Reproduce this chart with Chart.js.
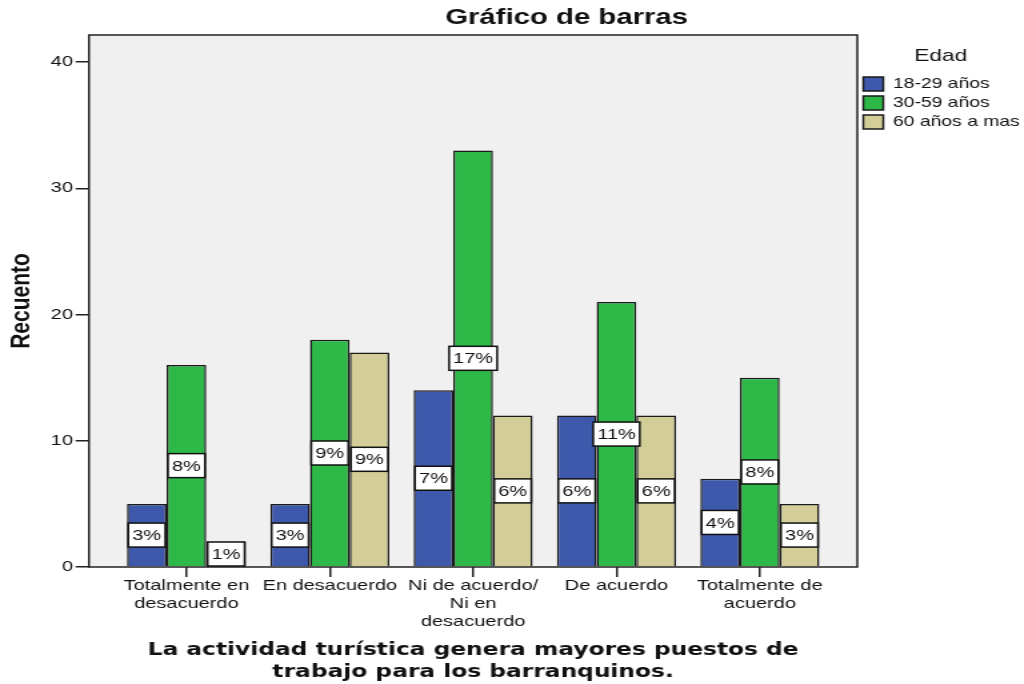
<!DOCTYPE html>
<html><head><meta charset="utf-8">
<script src="https://cdn.jsdelivr.net/npm/chart.js@4"></script>
<style>html,body{margin:0;padding:0;background:#fff;} canvas{display:block;}</style>
</head><body>
<canvas id="c" width="768" height="684" style="width:1024px;height:684px"></canvas>
<script>
const categories = [["Totalmente en","desacuerdo"],"En desacuerdo",["Ni de acuerdo/","Ni en","desacuerdo"],"De acuerdo",["Totalmente de","acuerdo"]];
const seriesNames = ["18-29 años","30-59 años","60 años a mas"];
const edad18_29 = [5,5,14,12,7];
const edad30_59 = [16,18,33,21,15];
const edad60 = [2,17,12,12,5];
const pct18_29 = ["3%","3%","7%","6%","4%"];
const pct30_59 = ["8%","9%","17%","11%","8%"];
const pct60 = ["1%","9%","6%","6%","3%"];
const yTicks = [0,10,20,30,40];
const chartTitle = "Gráfico de barras";
const xTitle = ["La actividad turística genera mayores puestos de","trabajo para los barranquinos."];
const yTitle = "Recuento";
const legendTitle = "Edad";

const SANS = '"Liberation Sans", Arial, sans-serif';
const pctLabels = [pct18_29, pct30_59, pct60];
const seriesValues = [edad18_29, edad30_59, edad60];
const colors = ["#3e58ac", "#2eb848", "#d3ce97"];

const framePlugin = {
  id: 'frame',
  beforeDraw(chart) {
    const {ctx, chartArea: a} = chart;
    ctx.save();
    ctx.fillStyle = '#f0f0f0';
    ctx.fillRect(a.left, a.top, a.right - a.left, a.bottom - a.top);
    ctx.restore();
  },
  afterDatasetsDraw(chart) {
    const {ctx, chartArea: a} = chart;
    ctx.save();
    ctx.strokeStyle = '#222';
    ctx.lineWidth = 1.5;
    ctx.strokeRect(a.left, a.top, a.right - a.left, a.bottom - a.top);
    ctx.font = '15px ' + SANS;
    ctx.textAlign = 'center';
    ctx.textBaseline = 'middle';
    chart.data.datasets.forEach((ds, i) => {
      const meta = chart.getDatasetMeta(i);
      meta.data.forEach((bar, j) => {
        const t = pctLabels[i][j];
        const cy = (bar.y + bar.base) / 2;
        const tw = ctx.measureText(t).width;
        const w = Math.max(tw + 6, bar.width - 2);
        const h = 24;
        ctx.fillStyle = '#fff';
        ctx.fillRect(bar.x - w / 2, cy - h / 2, w, h);
        ctx.lineWidth = 1.5;
        ctx.strokeStyle = '#111';
        ctx.strokeRect(bar.x - w / 2, cy - h / 2, w, h);
        ctx.fillStyle = '#111';
        ctx.fillText(t, bar.x, cy + 1);
      });
    });
    ctx.restore();
  },
  afterDraw(chart) {
    const {ctx} = chart;
    ctx.save();
    ctx.font = 'bold 22px ' + SANS;
    ctx.fillStyle = '#111';
    ctx.textAlign = 'center';
    ctx.textBaseline = 'middle';
    ctx.fillText(chartTitle, 425, 18);
    ctx.restore();
  }
};

new Chart(document.getElementById('c'), {
  type: 'bar',
  data: {
    datasets: seriesNames.map((name, i) => ({
      label: name,
      data: seriesValues[i].map((v, k) => ({x: k, y: v})),
      backgroundColor: colors[i],
      borderColor: '#1a1a1a',
      borderWidth: 1.5,
      borderSkipped: 'start',
      categoryPercentage: 0.83,
      barPercentage: 1.0
    }))
  },
  options: {
    responsive: false,
    animation: false,
    devicePixelRatio: 1,
    layout: {padding: {top: 35, left: 0, right: 0, bottom: 0}},
    scales: {
      x: {
        type: 'linear',
        offset: false,
        bounds: 'data',
        min: -0.68,
        max: 4.68,
        afterBuildTicks: s => { s.ticks = categories.map((c, k) => ({value: k})); },
        afterFit: s => { s.height = 117; },
        grid: {display: true, offset: false, drawOnChartArea: false, drawTicks: true, tickLength: 10, color: '#222', lineWidth: 1.5},
        border: {display: false},
        ticks: {
          autoSkip: false, maxRotation: 0, minRotation: 0, padding: 0, includeBounds: false,
          color: '#111', font: {family: SANS, size: 15, lineHeight: 1.2},
          callback: v => categories[v]
        },
        title: {
          display: true, text: xTitle, color: '#111',
          font: {family: '"DejaVu Sans", Verdana, sans-serif', size: 17.5, weight: 'bold', lineHeight: 22 / 17.5},
          padding: {top: 4, bottom: 1}
        }
      },
      y: {
        type: 'linear',
        min: 0,
        max: 42.14,
        afterBuildTicks: s => { s.ticks = yTicks.map(v => ({value: v})); },
        afterFit: s => { s.width = 66.75; },
        grid: {display: true, drawOnChartArea: false, drawTicks: true, tickLength: 10, color: '#222', lineWidth: 1.5},
        border: {display: false},
        ticks: {padding: 2, color: '#111', font: {family: SANS, size: 15}},
        title: {
          display: true, text: yTitle, color: '#111',
          font: {family: SANS, size: 21, weight: 'bold', lineHeight: 1.2},
          padding: {top: 4, bottom: 0}
        }
      }
    },
    plugins: {
      legend: {
        position: 'right',
        align: 'start',
        maxWidth: 125,
        title: {display: true, text: legendTitle, color: '#111', font: {family: SANS, size: 17}, padding: {top: 12.5, bottom: 4.35}},
        labels: {boxWidth: 15, boxHeight: 14, padding: 4.5, color: '#111', font: {family: SANS, size: 14.5}}
      },
      tooltip: {enabled: false},
      title: {display: false}
    }
  },
  plugins: [framePlugin]
});
</script>
</body></html>
